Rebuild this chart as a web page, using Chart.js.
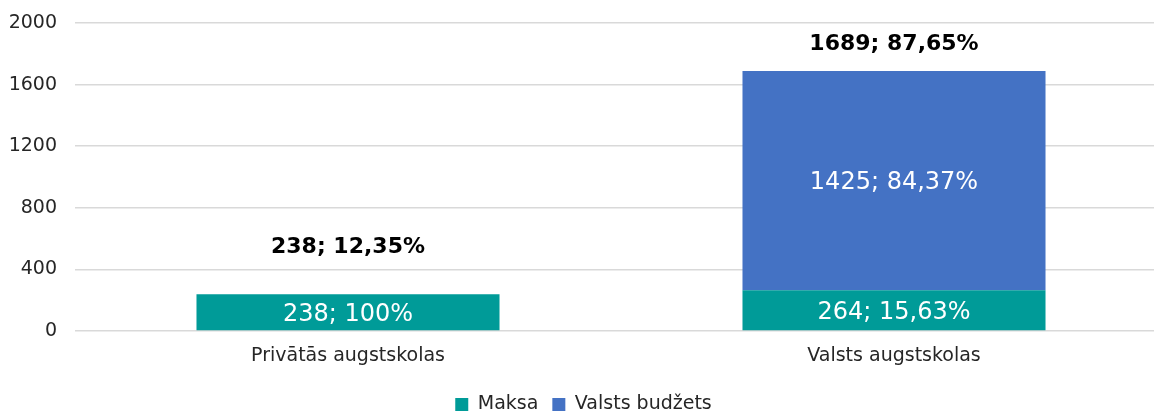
<!DOCTYPE html>
<html>
<head>
  <title>Augstskolas</title>
  <script src="https://cdn.jsdelivr.net/npm/chart.js"></script>
  <style>
    html, body { margin: 0; padding: 0; background: #fff; overflow: hidden; }
    #wrap { width: 1197px; height: 411px; }
  </style>
</head>
<body>
  <div id="wrap"><canvas id="myChart"></canvas></div>
  <script>
    // data
    var categories = ['Privātās augstskolas', 'Valsts augstskolas'];
    var maksa = [238, 264];
    var budzets = [0, 1425];
    var yTicks = [0, 400, 800, 1200, 1600, 2000];

    var FONT = '"DejaVu Sans", Verdana, sans-serif';

    function pct(v) {
      var s = v.toFixed(2).replace('.', ',');
      if (s.endsWith(',00')) s = s.slice(0, -3);
      return s + '%';
    }

    var totals = categories.map(function (c, i) { return maksa[i] + budzets[i]; });
    var grand = totals.reduce(function (a, b) { return a + b; }, 0);

    // draws the value labels inside bars and totals above them
    var labelPlugin = {
      id: 'barLabels',
      afterDatasetsDraw: function (chart) {
        var ctx = chart.ctx;
        ctx.save();
        ctx.textAlign = 'center';
        ctx.textBaseline = 'middle';
        chart.data.datasets.forEach(function (ds, di) {
          var meta = chart.getDatasetMeta(di);
          meta.data.forEach(function (bar, i) {
            var v = ds.data[i];
            if (!v) return;
            ctx.fillStyle = '#ffffff';
            ctx.font = '24px ' + FONT;
            var mid = (bar.y + bar.base) / 2 + 2;
            ctx.fillText(v + '; ' + pct(v / totals[i] * 100), bar.x, mid);
          });
        });
        var topOffsets = [47, 27];
        var first = chart.getDatasetMeta(0);
        categories.forEach(function (c, i) {
          var x = first.data[i].x;
          var y = chart.scales.y.getPixelForValue(totals[i]) - topOffsets[i];
          ctx.fillStyle = '#000000';
          ctx.font = 'bold 22px ' + FONT;
          ctx.fillText(totals[i] + '; ' + pct(totals[i] / grand * 100), x, y);
        });
        ctx.restore();
      }
    };

    var ctx = document.getElementById('myChart').getContext('2d');
    var myChart = new Chart(ctx, {
      type: 'bar',
      data: {
        labels: categories,
        datasets: [
          { label: 'Maksa', data: maksa, backgroundColor: '#009B98', borderWidth: 0 },
          { label: 'Valsts budžets', data: budzets, backgroundColor: '#4472C4', borderWidth: 0 }
        ]
      },
      options: {
        responsive: true,
        maintainAspectRatio: false,
        animation: false,
        categoryPercentage: 1,
        barPercentage: 0.555,
        layout: { padding: { top: 0, right: 30, left: 0, bottom: -13 } },
        scales: {
          x: {
            stacked: true,
            grid: { display: false },
            border: { display: false },
            afterFit: function (scale) { scale.height = 50; },
            ticks: { color: '#262626', font: { family: FONT, size: 19 }, padding: 6 }
          },
          y: {
            stacked: true,
            min: 0,
            max: 2000,
            afterBuildTicks: function (scale) {
              scale.ticks = yTicks.map(function (v) { return { value: v }; });
            },
            afterFit: function (scale) {
              scale.width = 75;
              scale.paddingTop = 23;
            },
            grid: { color: '#d9d9d9', lineWidth: 1.5, drawTicks: false },
            border: { display: false },
            ticks: {
              color: '#262626',
              font: { family: FONT, size: 19 },
              padding: 18,
              callback: function (v) { return String(v); }
            }
          }
        },
        plugins: {
          legend: {
            position: 'bottom',
            labels: {
              color: '#262626',
              font: { family: FONT, size: 19 },
              boxWidth: 13,
              boxHeight: 13,
              padding: 14
            }
          },
          tooltip: { enabled: false }
        }
      },
      plugins: [labelPlugin]
    });
  </script>
</body>
</html>
